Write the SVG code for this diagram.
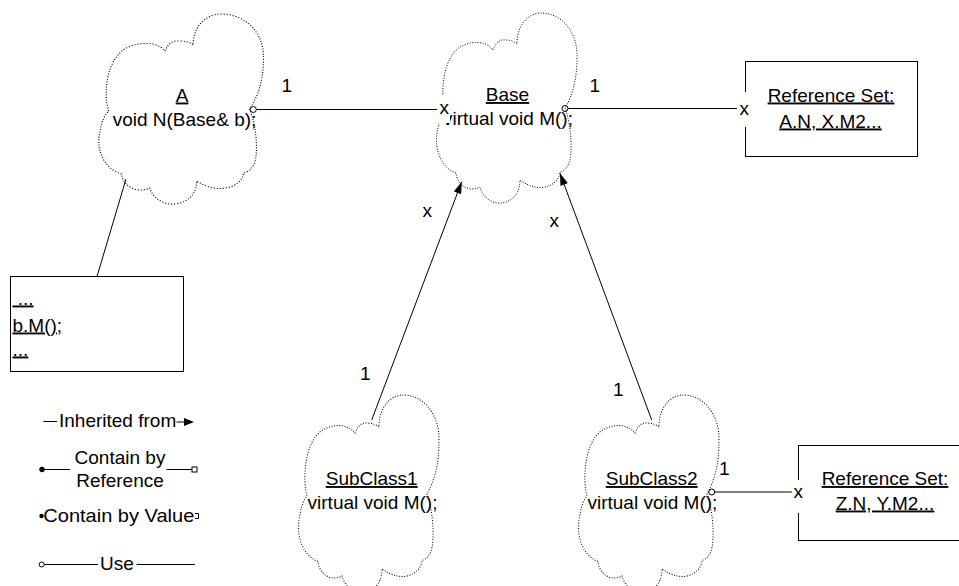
<svg xmlns="http://www.w3.org/2000/svg" xmlns:xlink="http://www.w3.org/1999/xlink" width="959" height="586" viewBox="0 0 959 586">
  <style>
    text { font-family: "Liberation Sans", Arial, sans-serif; font-size: 19px; fill: #000; }
    .mid { text-anchor: middle; }
    .ul { text-decoration: underline; }
    .cloud { fill: none; stroke: #000; stroke-width: 1; stroke-dasharray: 1 1.6; vector-effect: non-scaling-stroke; }
    .box { fill: #fff; stroke: #000; stroke-width: 1; }
    .line { fill: none; stroke: #000; stroke-width: 1; }
    .bg { fill: #fff; stroke: none; }
  </style>
  <defs>
    <!-- cloud outline, local box about 145 x 190 -->
    <path id="cloudShape" d="M58,37 Q62,26 70,27 Q78,27 82,31 C82,10 95,0 106,0 C126,0 143,18 142,45 C142,65 138,82 130,95 C136,110 138,140 134,150 C132,155 129,158 125,159 C124,172 105,182 85,167 C85,183 74,191 62,190 C54,189 47,182 45,174 C34,180 22,172 21,160 C6,155 -2,135 3,115 C4,107 7,100 10,97 C5,80 8,45 25,34 C37,27 52,28 58,37 Z"/>
    <marker id="arrow" viewBox="0 0 12 8" refX="12" refY="4" markerWidth="12" markerHeight="8" markerUnits="userSpaceOnUse" orient="auto">
      <path d="M0,0 L12,4 L0,8 Z" fill="#000"/>
    </marker>
  </defs>

  <rect width="959" height="586" fill="#fff"/>

  <!-- class A -->
  <g id="nodeA">
    <use xlink:href="#cloudShape" class="cloud" transform="translate(97,14) scale(1.172,1)"/>
    <text x="182" y="101.5" class="mid ul">A</text>
    <text x="184.5" y="126" class="mid">void N(Base&amp; b);</text>
  </g>

  <!-- class Base -->
  <g id="nodeBase">
    <use xlink:href="#cloudShape" class="cloud" transform="translate(435,13)"/>
    <text x="507.5" y="101" class="mid ul">Base</text>
    <text x="508" y="124.5" class="mid">virtual void M();</text>
  </g>

  <!-- reference set of Base -->
  <g id="refSet1">
    <rect x="745.5" y="61.5" width="172" height="95" class="box"/>
    <text x="831" y="101.5" class="mid ul">Reference Set:</text>
    <text x="830.5" y="127.5" class="mid ul">A.N, X.M2...</text>
  </g>

  <!-- body of A::N -->
  <g id="bodyN">
    <rect x="10.5" y="276.5" width="173" height="95" class="box"/>
    <text x="12.5" y="304.5" class="ul" xml:space="preserve"> ...</text>
    <text x="12.5" y="331.5" class="ul">b.M();</text>
    <text x="12.5" y="355.5" class="ul">...</text>
  </g>

  <!-- class SubClass1 -->
  <g id="nodeSub1">
    <use xlink:href="#cloudShape" class="cloud" transform="translate(297,395) scale(1,1.04)"/>
    <text x="371.7" y="485" class="mid ul">SubClass1</text>
    <text x="372.5" y="509" class="mid">virtual void M();</text>
  </g>

  <!-- class SubClass2 -->
  <g id="nodeSub2">
    <use xlink:href="#cloudShape" class="cloud" transform="translate(577,395) scale(1,1.04)"/>
    <text x="651.7" y="485" class="mid ul">SubClass2</text>
    <text x="652.4" y="509" class="mid">virtual void M();</text>
  </g>

  <!-- reference set of SubClass2 -->
  <g id="refSet2">
    <rect x="798.5" y="445.5" width="170" height="95" class="box"/>
    <text x="885" y="485" class="mid ul">Reference Set:</text>
    <text x="885" y="509.5" class="mid ul">Z.N, Y.M2...</text>
  </g>

  <!-- connectors -->
  <g id="connectors">
    <!-- A uses Base -->
    <circle cx="253.3" cy="109.5" r="3" class="line" fill="#fff"/>
    <line x1="256.3" y1="109.5" x2="437" y2="109.5" class="line"/>
    <text x="281.5" y="92">1</text>
    <rect x="438" y="96" width="12" height="27" class="bg"/>
    <text x="439.5" y="113.5">x</text>

    <!-- Base uses its reference set -->
    <circle cx="565" cy="108.5" r="3" class="line" fill="#fff"/>
    <line x1="568" y1="108.5" x2="737" y2="108.5" class="line"/>
    <text x="589.5" y="92">1</text>
    <rect x="739" y="92" width="12" height="35" class="bg"/>
    <text x="739.5" y="115">x</text>

    <!-- A to its method body -->
    <line x1="126" y1="179" x2="97" y2="276.5" class="line"/>

    <!-- SubClass1 inherited from Base -->
    <line x1="371.7" y1="420" x2="461.7" y2="181.7" class="line" marker-end="url(#arrow)"/>
    <text x="422.5" y="216.5">x</text>
    <text x="360" y="380">1</text>

    <!-- SubClass2 inherited from Base -->
    <line x1="651.7" y1="420" x2="560" y2="173.3" class="line" marker-end="url(#arrow)"/>
    <text x="549.5" y="227">x</text>
    <text x="613" y="396">1</text>

    <!-- SubClass2 uses its reference set -->
    <circle cx="711.7" cy="492" r="3" class="line" fill="#fff"/>
    <line x1="714.7" y1="492" x2="792" y2="492" class="line"/>
    <text x="719" y="475">1</text>
    <rect x="793" y="480" width="12" height="33" class="bg"/>
    <text x="793.5" y="498">x</text>
  </g>

  <!-- notation key -->
  <g id="legend">
    <line x1="43.3" y1="421.5" x2="57" y2="421.5" class="line"/>
    <text x="59" y="427">Inherited from</text>
    <line x1="176.5" y1="422" x2="185" y2="422" class="line"/>
    <path d="M184,418 L194,422 L184,426 Z" fill="#000"/>

    <circle cx="42" cy="469.5" r="2.7" fill="#000"/>
    <line x1="42" y1="469.5" x2="70" y2="469.5" class="line"/>
    <text x="120" y="464" class="mid">Contain by</text>
    <text x="120" y="487" class="mid">Reference</text>
    <line x1="166.5" y1="469.5" x2="192" y2="469.5" class="line"/>
    <rect x="192" y="467" width="5" height="5" class="line" fill="#fff"/>

    <circle cx="41.5" cy="516" r="2.2" fill="#000"/>
    <text x="43.3" y="521.5" textLength="151" lengthAdjust="spacingAndGlyphs">Contain by Value</text>
    <path d="M195,513.5 H198.5 V518.5 H195" class="line"/>

    <circle cx="41.7" cy="564.5" r="2.5" class="line" fill="#fff"/>
    <line x1="44.2" y1="564.5" x2="98" y2="564.5" class="line"/>
    <text x="100" y="570">Use</text>
    <line x1="136.5" y1="564.5" x2="195" y2="564.5" class="line"/>
  </g>
</svg>
